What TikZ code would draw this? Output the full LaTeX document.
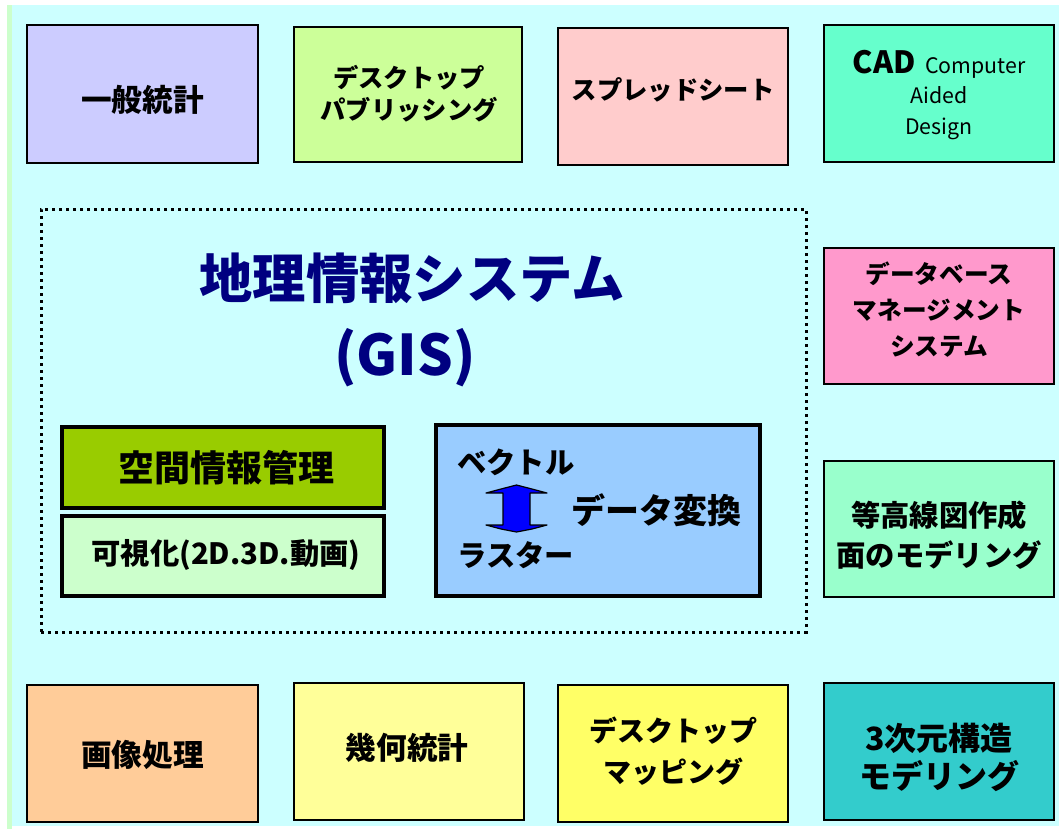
\documentclass[tikz,border=0pt]{standalone}
\usepackage{fontspec}
\setmainfont{Noto Sans CJK JP}
\usetikzlibrary{fit}
\definecolor{bgc}{HTML}{CCFFFF}
\definecolor{stripc}{HTML}{CCFFCC}
\definecolor{cIppan}{HTML}{CCCCFF}
\definecolor{cDTP}{HTML}{CCFF99}
\definecolor{cSheet}{HTML}{FFCCCC}
\definecolor{cCAD}{HTML}{66FFCC}
\definecolor{cDB}{HTML}{FF99CC}
\definecolor{cCont}{HTML}{99FFCC}
\definecolor{cImg}{HTML}{FFCC99}
\definecolor{cGeo}{HTML}{FFFF99}
\definecolor{cMap}{HTML}{FFFF66}
\definecolor{c3D}{HTML}{33CCCC}
\definecolor{cSpace}{HTML}{99CC00}
\definecolor{cVis}{HTML}{CCFFCC}
\definecolor{cVec}{HTML}{99CCFF}
\definecolor{navy}{HTML}{000080}
\definecolor{arrblue}{HTML}{0000FF}
\begin{document}
\begin{tikzpicture}[x=0.75pt,y=-0.75pt,
  box/.style={draw=black, line width=1.5pt, inner sep=0pt},
  inbox/.style={box, line width=2.4pt},
  txt/.style={inner sep=0pt, align=center, font=\bfseries\fontsize{19}{24}\selectfont},
  lbl/.style={inner sep=0pt, anchor=west, font=\bfseries\fontsize{22}{26}\selectfont},
  titlef/.style={inner sep=0pt, text=navy, font=\bfseries\fontsize{40}{48}\selectfont}]
\useasboundingbox (0,0) rectangle (1059,829);
\fill[white] (0,0) rectangle (1059,829);
\fill[stripc] (7,5) rectangle (12,829);
\fill[bgc] (12,5) rectangle (1059,826);

% top row
\node[box, fill=cIppan, fit={(27,25) (258,163)}] (ippan) {};
\node[txt, font=\bfseries\fontsize{23}{26}\selectfont] (ippanT) at (142.5,100) {一般統計};
\node[box, fill=cDTP, fit={(294,27) (522,162)}] (dtp) {};
\node[txt] (dtpT) at (409,94) {デスクトップ\\パブリッシング};
\node[box, fill=cSheet, fit={(558,28) (788,165)}] (sheet) {};
\node[txt] (sheetT) at (673,90) {スプレッドシート};
\node[box, fill=cCAD, fit={(824,25) (1054,162)}] (cad) {};
\node[txt, font=\fontsize{16}{23}\selectfont] (cadT) at (939,95)
  {{\bfseries\fontsize{23}{23}\selectfont CAD}\ \ Computer\\Aided\\Design};

% right column
\node[box, fill=cDB, fit={(824,248) (1054,384)}] (db) {};
\node[txt, font=\bfseries\fontsize{18.5}{27}\selectfont] (dbT) at (939,310)
  {データベース\\マネージメント\\システム};
\node[box, fill=cCont, fit={(824,461) (1054,597)}] (cont) {};
\node[txt, font=\bfseries\fontsize{22}{30}\selectfont] (contT) at (939,535)
  {等高線図作成\\面のモデリング};

% bottom row
\node[box, fill=cImg, fit={(27,685) (258,822)}] (img) {};
\node[txt, font=\bfseries\fontsize{23}{26}\selectfont] (imgT) at (142.5,755) {画像処理};
\node[box, fill=cGeo, fit={(294,683) (524,820)}] (geo) {};
\node[txt, font=\bfseries\fontsize{23}{26}\selectfont] (geoT) at (407,748) {幾何統計};
\node[box, fill=cMap, fit={(558,685) (788,822)}] (map) {};
\node[txt, font=\bfseries\fontsize{21}{31}\selectfont] (mapT) at (673,751)
  {デスクトップ\\マッピング};
\node[box, fill=c3D, fit={(824,683) (1054,820)}] (three) {};
\node[txt, font=\bfseries\fontsize{24}{28.5}\selectfont] (threeT) at (939,757)
  {3次元構造\\モデリング};

% GIS frame
\node[draw=black, line width=2.25pt, dash pattern=on 2.25pt off 3pt, inner sep=0pt,
  fit={(41,209) (806,632)}] (gis) {};
\node[titlef] (title) at (412,278) {地理情報システム};
\node[titlef, font=\bfseries\fontsize{42}{48}\selectfont] (gisabbr) at (405,358) {(GIS)};

\node[inbox, fill=cSpace, fit={(62,427) (384,508)}] (space) {};
\node[txt, font=\bfseries\fontsize{27}{30}\selectfont] (spaceT) at (226,468) {空間情報管理};
\node[inbox, fill=cVis, fit={(62,516) (384,596)}] (vis) {};
\node[txt, font=\bfseries\fontsize{22}{26}\selectfont] (visT) at (226,555) {可視化(2D.3D.動画)};
\node[inbox, fill=cVec, fit={(436,425) (760,596)}] (vecbox) {};

\node[lbl] (vec) at (457,462) {ベクトル};
\node[lbl] (ras) at (457,555) {ラスター};
\node[lbl, font=\bfseries\fontsize{25.5}{28}\selectfont] (conv) at (571,510) {データ変換};

% up-down arrow
\draw[fill=arrblue, line width=0.9pt, line join=round]
  (516.5,485) -- (532,489) -- (547,493) -- (530,493) -- (530,525) -- (547,525)
  -- (532,529) -- (516.5,532) -- (501,529) -- (486,525) -- (503,525) -- (503,493)
  -- (486,493) -- (501,489) -- cycle;
\end{tikzpicture}
\end{document}
